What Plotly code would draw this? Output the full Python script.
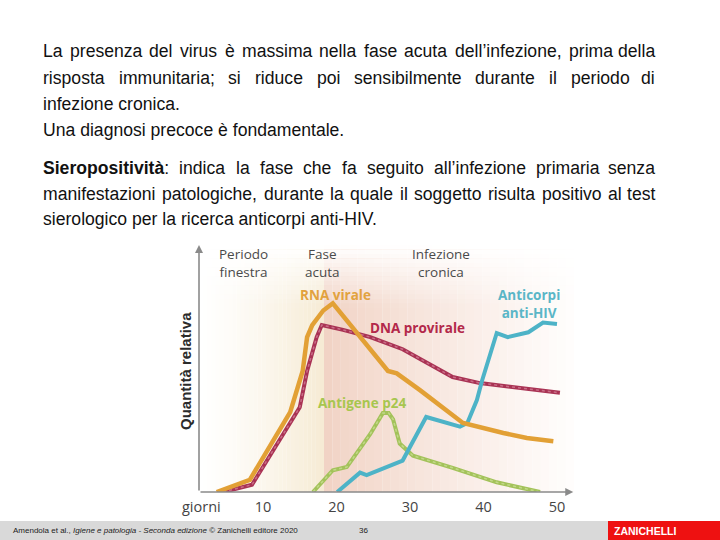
import plotly.graph_objects as go

# ---------------- data (days, relative quantity) ----------------
rna_days = [3.7, 8.2, 13.7, 15.4, 16.0, 16.7, 18.2, 19.5, 27.0, 28.2, 31.4, 34.5, 37.2, 42.7, 45.9, 49.5]
rna_q = [0, 5, 33, 50, 64, 69, 75, 78, 50, 49, 42, 35, 28.5, 24.4, 22.3, 21]

dna_days = [4.6, 8.5, 15.0, 16.0, 17.3, 18.0, 20.9, 24.6, 29.0, 35.8, 39.5, 50.4]
dna_q = [0, 3, 35, 50, 64, 69, 67, 64, 59, 47.5, 45, 41]

p24_days = [16.8, 19.5, 21.4, 24.6, 26.3, 27.1, 27.7, 28.6, 30.4, 35.8, 41.8, 47.7]
p24_q = [0, 9, 10.3, 24, 32.6, 32.6, 30, 20, 15, 10, 4, 0]

ab_days = [20.1, 23.2, 24.1, 29.0, 32.2, 36.8, 37.8, 39.1, 39.8, 41.8, 43.3, 46.1, 48.1, 50.0]
ab_q = [0, 8, 7, 13, 31, 27, 28.5, 38, 46, 65.7, 64, 66, 70, 69.4]

tick_days = [10, 20, 30, 40, 50]
tick_labels = ["10", "20", "30", "40", "50"]
acute_start_day = 18.3

paragraph_lines = [
    "La presenza del virus è massima nella fase acuta dell’infezione, prima della",
    "risposta immunitaria; si riduce poi sensibilmente durante il periodo di",
    "infezione cronica.",
    "Una diagnosi precoce è fondamentale.",
    "Sieropositività: indica la fase che fa seguito all’infezione primaria senza",
    "manifestazioni patologiche, durante la quale il soggetto risulta positivo al test",
    "sierologico per la ricerca anticorpi anti-HIV.",
]
justified = [True, True, False, False, True, True, False]
bold_words = {"Sieropositività"}

# ---------------- layout geometry ----------------
W, H = 720, 540
def fx(p):
    return p / W
def fy(p):
    return 1 - p / H

X_PX0, X_PX1 = 199, 574
Y_PX0, Y_PX1 = 492, 245
PX_DAY0, PX_PER_DAY = 189.5, 7.35
PX_PER_Q = 2.42
xr = [(X_PX0 - PX_DAY0) / PX_PER_DAY, (X_PX1 - PX_DAY0) / PX_PER_DAY]
yr = [0, (Y_PX0 - Y_PX1) / PX_PER_Q]

fig = go.Figure()

# curves
fig.add_trace(go.Scatter(x=dna_days, y=dna_q, mode="lines",
                         line=dict(color="#A93354", width=4), hoverinfo="skip"))
fig.add_trace(go.Scatter(x=dna_days, y=dna_q, mode="lines",
                         line=dict(color="#C96E88", width=1.5, dash="dot"), hoverinfo="skip"))
fig.add_trace(go.Scatter(x=p24_days, y=p24_q, mode="lines",
                         line=dict(color="#A3C25A", width=4), hoverinfo="skip"))
fig.add_trace(go.Scatter(x=p24_days, y=p24_q, mode="lines",
                         line=dict(color="#C2D888", width=1.5, dash="dot"), hoverinfo="skip"))
fig.add_trace(go.Scatter(x=ab_days, y=ab_q, mode="lines",
                         line=dict(color="#4DB3C7", width=4), hoverinfo="skip"))
fig.add_trace(go.Scatter(x=rna_days, y=rna_q, mode="lines",
                         line=dict(color="#E2A035", width=4.5), hoverinfo="skip"))

# ---------------- background gradients ----------------
shapes = []
def lerp(c1, c2, t):
    return tuple(round(a + (b - a) * t) for a, b in zip(c1, c2))

N = 30
cream0, cream1 = (255, 255, 255), (246, 235, 212)
for i in range(N):
    x0 = xr[0] + (acute_start_day - xr[0]) * i / N
    x1 = xr[0] + (acute_start_day - xr[0]) * (i + 1) / N
    c = lerp(cream0, cream1, ((i + 0.5) / N) ** 1.3)
    shapes.append(dict(type="rect", xref="x", yref="y", x0=x0, x1=x1 + 0.02, y0=0, y1=yr[1],
                       fillcolor="rgb(%d,%d,%d)" % c, line=dict(width=0), layer="below"))
pink0, pink1 = (241, 210, 196), (255, 254, 253)
for i in range(N):
    x0 = acute_start_day + (xr[1] - acute_start_day) * i / N
    x1 = acute_start_day + (xr[1] - acute_start_day) * (i + 1) / N
    c = lerp(pink0, pink1, ((i + 0.5) / N) ** 0.9)
    shapes.append(dict(type="rect", xref="x", yref="y", x0=x0, x1=x1 + 0.02, y0=0, y1=yr[1],
                       fillcolor="rgb(%d,%d,%d)" % c, line=dict(width=0), layer="below"))
# top white fade
M = 14
fade_top, fade_bot = yr[1], yr[1] - 26
for i in range(M):
    y1 = fade_top - (fade_top - fade_bot) * i / M
    y0 = fade_top - (fade_top - fade_bot) * (i + 1) / M
    op = 1 - (i + 0.5) / M
    shapes.append(dict(type="rect", xref="x", yref="y", x0=xr[0], x1=xr[1], y0=y0 - 0.05, y1=y1,
                       fillcolor="rgba(255,255,255,%.3f)" % op, line=dict(width=0), layer="below"))

# footer bar
shapes.append(dict(type="rect", xref="paper", yref="paper", x0=0, x1=1, y0=fy(540), y1=fy(521),
                   fillcolor="#D9D9D9", line=dict(width=0), layer="below"))
shapes.append(dict(type="rect", xref="paper", yref="paper", x0=fx(608), x1=1, y0=fy(540), y1=fy(521),
                   fillcolor="#EE1111", line=dict(width=0), layer="above"))

# ---------------- annotations ----------------
ann = []

# axis arrows
ann.append(dict(xref="x", yref="y", axref="x", ayref="y", x=xr[0], y=yr[1], ax=xr[0], ay=0,
                text="", showarrow=True, arrowhead=2, arrowsize=1, arrowwidth=1.6, arrowcolor="#8A8A8A"))
ann.append(dict(xref="x", yref="y", axref="x", ayref="y", x=xr[1] - 0.1, y=0, ax=xr[0], ay=0,
                text="", showarrow=True, arrowhead=2, arrowsize=1, arrowwidth=1.6, arrowcolor="#8A8A8A"))

# paragraph text, justified word by word
REG = {' ': 278, ',': 278, '.': 278, ';': 278, ':': 278, '’': 222, '-': 333,
       'a': 556, 'b': 556, 'c': 500, 'd': 556, 'e': 556, 'f': 278, 'g': 556, 'h': 556, 'i': 222,
       'j': 222, 'k': 500, 'l': 222, 'm': 833, 'n': 556, 'o': 556, 'p': 556, 'q': 556, 'r': 333,
       's': 500, 't': 278, 'u': 556, 'v': 500, 'w': 722, 'x': 500, 'y': 500, 'z': 500,
       'è': 556, 'à': 556, 'L': 556, 'U': 722, 'S': 667, 'H': 722, 'I': 278, 'V': 667}
BLD = {'S': 667, 'i': 278, 'e': 556, 'r': 389, 'o': 611, 'p': 611, 's': 556, 't': 333, 'v': 556, 'à': 556}
FONT_PARA = "Liberation Sans, Arial, sans-serif"
PSIZE = 17.6
SCALE = PSIZE / 1000.0

def word_parts(w):
    for b in bold_words:
        if w.startswith(b):
            return [(b, True), (w[len(b):], False)]
    return [(w, False)]

def word_width(w):
    tot = 0
    for seg, bold in word_parts(w):
        for ch in seg:
            tot += (BLD.get(ch, 556) if bold else REG.get(ch, 556))
    return tot * SCALE

def word_html(w):
    out = ""
    for seg, bold in word_parts(w):
        out += ("<b>%s</b>" % seg) if bold else seg
    return out

LEFT, RIGHT = 42, 656
baselines = [56, 83, 109, 135, 173, 199, 224]
for line, just, base in zip(paragraph_lines, justified, baselines):
    yc = fy(base - 5)
    if just:
        words = line.split(" ")
        widths = [word_width(w) for w in words]
        gap = (RIGHT - LEFT - sum(widths)) / (len(words) - 1)
        xpos = LEFT
        for k, (w, wd) in enumerate(zip(words, widths)):
            last = k == len(words) - 1
            ann.append(dict(xref="paper", yref="paper", x=fx(RIGHT if last else xpos), y=yc,
                            xanchor="right" if last else "left", yanchor="middle",
                            text=word_html(w), showarrow=False,
                            font=dict(family=FONT_PARA, size=PSIZE, color="#111111"), borderpad=0))
            xpos += wd + gap
    else:
        ann.append(dict(xref="paper", yref="paper", x=fx(LEFT), y=yc, xanchor="left", yanchor="middle",
                        text=" ".join(word_html(w) for w in line.split(" ")), showarrow=False,
                        font=dict(family=FONT_PARA, size=PSIZE, color="#111111"), borderpad=0))

# chart labels
FONT_CH = "Open Sans, Noto Sans, sans-serif"
def lab(text, x, y, color, size=13.5, bold=False):
    ann.append(dict(xref="paper", yref="paper", x=fx(x), y=fy(y), xanchor="center", yanchor="middle",
                    text=("<b>%s</b>" % text) if bold else text, showarrow=False,
                    font=dict(family=FONT_CH, size=size, color=color)))

phase_col = "#4A4A4A"
lab("Periodo<br>finestra", 243.5, 263, phase_col)
lab("Fase<br>acuta", 322, 263, phase_col)
lab("Infezione<br>cronica", 441, 263, phase_col)
lab("RNA virale", 335.5, 295, "#E2A23E", 13.5, True)
lab("DNA provirale", 417.5, 328, "#B3284A", 13.5, True)
lab("Anticorpi<br>anti-HIV", 529, 304, "#5AB6C7", 13.5, True)
lab("Antigene p24", 362, 403, "#A7C64F", 13.5, True)
lab("giorni", 201.5, 506, "#444444", 14.5)

ann.append(dict(xref="paper", yref="paper", x=fx(185), y=fy(371), xanchor="center", yanchor="middle",
                text="<b>Quantità relativa</b>", textangle=-90, showarrow=False,
                font=dict(family="Liberation Sans, Arial, sans-serif", size=15, color="#2B2B2B")))

# footer
ann.append(dict(xref="paper", yref="paper", x=fx(11), y=fy(530.5), xanchor="left", yanchor="middle",
                text="Amendola et al., <i>Igiene e patologia - Seconda edizione</i> © Zanichelli editore 2020",
                showarrow=False, font=dict(family=FONT_PARA, size=8, color="#222222")))
ann.append(dict(xref="paper", yref="paper", x=fx(357), y=fy(530.5), xanchor="left", yanchor="middle",
                text="36", showarrow=False, font=dict(family=FONT_PARA, size=8, color="#222222")))
ann.append(dict(xref="paper", yref="paper", x=fx(645), y=fy(530.5), xanchor="center", yanchor="middle",
                text="<b>ZANICHELLI</b>", showarrow=False,
                font=dict(family=FONT_PARA, size=10.5, color="#FFFFFF")))

fig.update_layout(
    width=W, height=H, autosize=False,
    margin=dict(l=0, r=0, t=0, b=0),
    paper_bgcolor="white", plot_bgcolor="white",
    showlegend=False,
    shapes=shapes, annotations=ann,
    xaxis=dict(domain=[fx(X_PX0), fx(X_PX1)], range=xr, showgrid=False, zeroline=False, showline=False,
               tickvals=tick_days, ticktext=tick_labels, ticks="", ticklabelstandoff=4,
               tickfont=dict(family=FONT_CH, size=14.5, color="#444444"), fixedrange=True),
    yaxis=dict(domain=[fy(Y_PX0), fy(Y_PX1)], range=yr, showgrid=False, zeroline=False, showline=False,
               showticklabels=False, ticks="", fixedrange=True),
)

fig.write_html("out.html", post_script="document.body.style.margin='0px';",
               config={"displayModeBar": False})
